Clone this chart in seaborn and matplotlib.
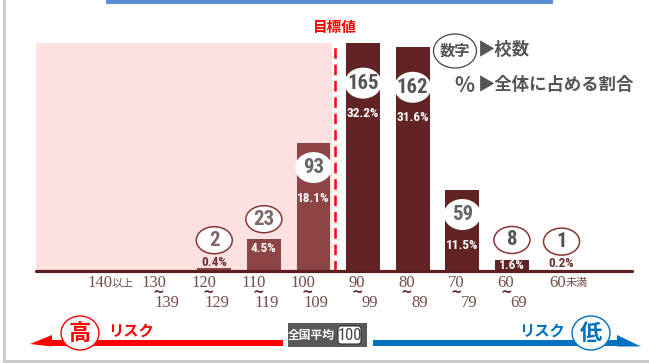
import numpy as np
import pandas as pd
import matplotlib
matplotlib.use("Agg")
import matplotlib.pyplot as plt
import matplotlib.transforms as mtrans
from matplotlib.patches import Ellipse, Rectangle, FancyBboxPatch, Polygon
from matplotlib import font_manager as fm
import seaborn as sns

# ---------------- data ----------------
range_low = ["140", "130", "120", "110", "100", "90", "80", "70", "60", "60"]
range_high = ["以上", "139", "129", "119", "109", "99", "89", "79", "69", "未満"]
categories = [a + "~" + b for a, b in zip(range_low, range_high)]
counts = [0, 0, 2, 23, 93, 165, 162, 59, 8, 1]
percents = ["", "", "0.4%", "4.5%", "18.1%", "32.2%", "31.6%", "11.5%", "1.6%", "0.2%"]
target_after = 4          # target line lies after "100~109"
target_label = "目標値"
national_avg = "100"
legend_count = "数字"
legend_count_text = "▶校数"
legend_pct = "%"
legend_pct_text = "▶全体に占める割合"

# ---------------- style ----------------
sns.set_theme(style="white")
CJK = "Noto Sans CJK JP"
plt.rcParams["font.family"] = [CJK, "DejaVu Sans"]


def pick_narrow():
    entries = fm.fontManager.ttflist
    for nm in ("Liberation Sans Narrow", "Roboto Condensed", "Open Sans Condensed"):
        if any(f.name == nm for f in entries):
            return dict(family=nm), 1.0
    if any(f.name == "DejaVu Sans" and f.stretch == "condensed" and f.weight in (700, "bold")
           for f in entries):
        return dict(family="DejaVu Sans", fontstretch="condensed"), 0.9
    return dict(family="Roboto"), 0.85


NARROW, NSCALE = pick_narrow()

LIGHT_BAR = "#8c4444"
DARK_BAR = "#612323"
PINK = "#fde0e0"
BASE = "#5c1e1e"
TICK = "#734c4c"
GRAYTXT = "#555555"
EDGE = "#8a3535"

W, H = 649, 363
fig = plt.figure(figsize=(W / 100, H / 100), dpi=100, facecolor="white")
ax = fig.add_axes([36 / W, 92 / H, 596 / W, 261 / H])
ax.patch.set_alpha(0)

df = pd.DataFrame({"cat": categories, "count": counts,
                   "zone": ["below" if i <= target_after else "above" for i in range(len(counts))]})
sns.barplot(data=df, x="cat", y="count", hue="zone", dodge=False, width=0.68,
            palette={"below": LIGHT_BAR, "above": DARK_BAR}, saturation=1,
            linewidth=0, legend=False, ax=ax, zorder=2)

ax.set_xlim(-1.593, 10.42)
ax.set_ylim(0, 189)
ax.set_xlabel("")
ax.set_ylabel("")
ax.set_xticks([])
ax.set_yticks([])
for s in ax.spines.values():
    s.set_visible(False)

xpx = ax.bbox.width / (10.42 + 1.593)   # px per category unit
ypx = ax.bbox.height / 189.0            # px per count

ymax = max(counts)
x0 = ax.get_xlim()[0]
ax.fill_between([x0, target_after + 0.37], 0, ymax, color=PINK, zorder=0, linewidth=0)
ax.vlines(target_after + 0.44, 0, ymax, colors="#ff1010", linestyles=(0, (4, 2.2)),
          linewidth=1.9, zorder=3)
ax.text(target_after + 0.44, ymax + 16 / ypx, target_label, color="#ff0000", fontsize=10.5,
        fontweight="bold", ha="center", va="center")
ax.axhline(0, color=BASE, lw=2.3, zorder=4, clip_on=False)


def off(dx, dy, base=None):
    return mtrans.offset_copy(base or ax.transData, fig=fig, x=dx, y=dy, units="dots")


NUM_FS = 15 * NSCALE
PCT_FS = 9.5 * NSCALE

# ---------------- bar annotations ----------------
for i, (c, p) in enumerate(zip(counts, percents)):
    if c == 0:
        continue
    hpx = c * ypx
    if c >= 50:
        eo = -40 if c > 100 else -25
        po = -70 if c > 100 else -56
        ax.add_patch(Ellipse((i, c + eo / ypx), 37 / xpx, 31 / ypx, facecolor="white",
                             edgecolor="none", zorder=5))
        ax.text(i, c + eo / ypx, str(c), ha="center", va="center", fontsize=NUM_FS,
                fontweight="bold", color=GRAYTXT if c > 100 else "#666666",
                zorder=6, **NARROW)
        ax.text(i, c + po / ypx, p, ha="center", va="center", fontsize=PCT_FS,
                fontweight="bold", color="white", zorder=6, **NARROW)
    else:
        ncol = "#7d6868" if i <= target_after else GRAYTXT
        if c >= 5:
            eo = 20
            po = -min(9, hpx / 2)
            pcol = "white"
        else:
            eo = 28
            po = 6
            pcol = "#6e2f2f"
        ax.add_patch(Ellipse((i, c + eo / ypx), 36 / xpx, 27 / ypx, facecolor="white",
                             edgecolor=EDGE, lw=1.1, zorder=5))
        ax.text(i, c + eo / ypx, str(c), ha="center", va="center", fontsize=NUM_FS,
                fontweight="bold", color=ncol, zorder=6, **NARROW)
        ax.text(i, c + po / ypx, p, ha="center", va="center", fontsize=PCT_FS,
                fontweight="bold", color=pcol, zorder=6, **NARROW)

# ---------------- category labels ----------------
xt = ax.get_xaxis_transform()
for i, (lo, hi) in enumerate(zip(range_low, range_high)):
    if hi in ("以上", "未満"):
        sh = -3 if hi == "以上" else 4
        ax.text(i, 0, lo, transform=off(sh, -12, xt), ha="right", va="center",
                fontsize=12, family="Liberation Serif", color=TICK)
        ax.text(i, 0, hi, transform=off(sh, -12, xt), ha="left", va="center",
                fontsize=8, family=CJK, color=TICK)
    else:
        ax.text(i, 0, lo, transform=off(2, -12, xt), ha="right", va="center",
                fontsize=12, family="Liberation Serif", color=TICK)
        ax.text(i, 0, "~", transform=off(-6, -21.5, xt), ha="center", va="center",
                fontsize=10, fontweight="bold", family="DejaVu Sans", color="#5a2a2a")
        ax.text(i, 0, hi, transform=off(15, -32, xt), ha="right", va="center",
                fontsize=12, family="Liberation Serif", color=TICK)

# ---------------- decorations (pixel overlay) ----------------
ov = fig.add_axes([0, 0, 1, 1], zorder=5)
ov.set_xlim(0, W)
ov.set_ylim(H, 0)
ov.axis("off")

ov.add_patch(Rectangle((106, 0), 447, 3.5, color="#558ED5", lw=0))
ov.add_patch(Rectangle((3, 0), 3, 361, color="#cccccc", lw=0))
ov.add_patch(Rectangle((3, 359.5), 646, 4, color="#cccccc", lw=0))

# legend
ov.add_patch(Ellipse((455, 51), 43, 34, facecolor="white", edgecolor="#555555", lw=1))
ov.text(455, 51, legend_count, ha="center", va="center", fontsize=11, fontweight="bold",
        color=GRAYTXT)
ov.text(478, 50, legend_count_text, ha="left", va="center", fontsize=12.5,
        fontweight="bold", color=GRAYTXT)
ov.text(464, 85, legend_pct, ha="center", va="center", fontsize=15, fontweight="bold",
        color=GRAYTXT)
ov.text(478, 85, legend_pct_text, ha="left", va="center", fontsize=12.5,
        fontweight="bold", color=GRAYTXT)

# red arrow (high risk)
RED = "#ff0000"
ov.add_patch(Rectangle((48, 340), 235, 6, color=RED, lw=0))
ov.add_patch(Polygon([(30, 344), (52, 335), (52, 346.5)], closed=True, color=RED, lw=0))
ov.add_patch(Ellipse((80, 333), 38, 34, facecolor="white", edgecolor=RED, lw=1))
ov.text(80, 333, "高", ha="center", va="center", fontsize=16, fontweight="bold", color=RED)
ov.text(131, 331, "リスク", ha="center", va="center", fontsize=11, fontweight="bold",
        color=RED, style="italic")

# blue arrow (low risk)
BLUE = "#0070C0"
ov.add_patch(Rectangle((373, 340), 248, 6, color=BLUE, lw=0))
ov.add_patch(Polygon([(617, 335), (641, 346.5), (617, 346.5)], closed=True, color=BLUE, lw=0))
ov.add_patch(Ellipse((591, 333), 38, 34, facecolor="white", edgecolor=BLUE, lw=1))
ov.text(591, 333, "低", ha="center", va="center", fontsize=16, fontweight="bold", color=BLUE)
ov.text(542, 331, "リスク", ha="center", va="center", fontsize=11, fontweight="bold",
        color=BLUE, style="italic")

# national average
ov.add_patch(Rectangle((288, 323), 79, 24, color="#595959", lw=0))
ov.text(311, 335, "全国平均", ha="center", va="center", fontsize=8.5, fontweight="bold",
        color="white")
ov.add_patch(FancyBboxPatch((338, 326), 23, 18, boxstyle="round,pad=0,rounding_size=3",
                            facecolor="white", edgecolor="#333333", lw=0.8))
ov.text(349.5, 335.5, national_avg, ha="center", va="center", fontsize=12 * NSCALE,
        color="#444444", **NARROW)

fig.savefig("out.png", dpi=100, facecolor="white")
